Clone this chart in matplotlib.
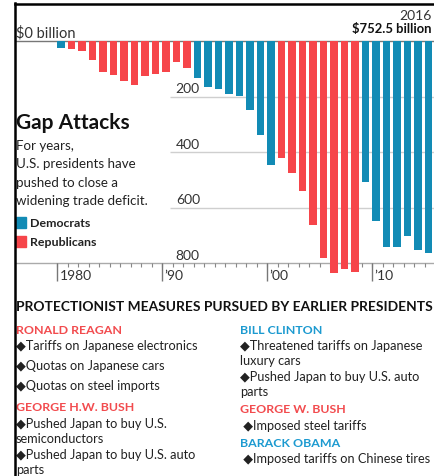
import matplotlib
matplotlib.use('Agg')
import matplotlib.pyplot as plt
from matplotlib.lines import Line2D

# --- Data: U.S. goods trade deficit, $ billions ---
years = list(range(1980, 2017))
deficit = [25.5, 28.0, 36.5, 67.1, 112.5, 122.2, 145.1, 159.6, 127.0, 117.7,
           111.0, 76.9, 96.9, 132.5, 165.8, 174.2, 191.0, 198.4, 248.2, 337.1,
           446.8, 422.4, 475.2, 541.6, 664.8, 782.8, 837.3, 821.2, 832.5, 509.7,
           648.7, 740.6, 741.5, 702.2, 751.5, 762.6, 752.5]
party = ['D'] + ['R'] * 12 + ['D'] * 8 + ['R'] * 8 + ['D'] * 8
grid_vals = [200, 400, 600]
decade_ticks = [1980, 1990, 2000, 2010]
decade_labels = ['1980', '\u201990', '\u201900', '\u201910']

left_items = [('RONALD REAGAN', 'R', 331),
              ('\u25c6Tariffs on Japanese electronics', None, 346),
              ('\u25c6Quotas on Japanese cars', None, 366),
              ('\u25c6Quotas on steel imports', None, 386),
              ('GEORGE H.W. BUSH', 'R', 408),
              ('\u25c6Pushed Japan to buy U.S.', None, 424),
              ('semiconductors', None, 439),
              ('\u25c6Pushed Japan to buy U.S. auto', None, 455),
              ('parts', None, 470)]
right_items = [('BILL CLINTON', 'D', 331),
               ('\u25c6Threatened tariffs on Japanese', None, 346),
               ('luxury cars', None, 361),
               ('\u25c6Pushed Japan to buy U.S. auto', None, 377),
               ('parts', None, 392),
               ('GEORGE W. BUSH', 'R', 410),
               (' \u25c6Imposed steel tariffs', None, 426),
               ('BARACK OBAMA', 'D', 444),
               (' \u25c6Imposed tariffs on Chinese tires', None, 459)]

# --- Style ---
C_DEM = '#128bb5'
C_REP = '#f6454a'
C_DEM_TXT = '#1c9ad0'
C_REP_TXT = '#f24b4e'
TXT = '#222222'
plt.rcParams['font.family'] = ['Lato', 'DejaVu Sans']

W, H = 434, 477
fig = plt.figure(figsize=(W / 100, H / 100), dpi=100)
fig.patch.set_facecolor('white')

# --- Chart axes (pixel box 15..434 x 5..290) ---
X0, X1, Y0, Y1 = 15, 434, 5, 290
ax = fig.add_axes([X0 / W, 1 - Y1 / H, (X1 - X0) / W, (Y1 - Y0) / H])
PX_YR = 10.5
PX_BN = 0.2775
ax.set_xlim(1980 - (57 - X0) / PX_YR, 1980 + (X1 - 57) / PX_YR)
ax.set_ylim((Y1 - 42) / PX_BN, -(42 - Y0) / PX_BN)
ax.axis('off')

colors = [C_DEM if p == 'D' else C_REP for p in party]
ax.bar(years, deficit, width=0.72, align='edge', color=colors, zorder=3)

xg = 1980 + (170 - 57) / PX_YR
for g in grid_vals + [800]:
    if g != 800:
        ax.hlines(g, xg, 2020, color='#cfcfcf', lw=1.0, zorder=1)
    ax.text(xg + 0.55, g - 8, str(g), fontsize=10, color='#333', va='bottom', ha='left', zorder=2)
ax.axhline(0, color='#777777', lw=1.0, zorder=2)
ax.axhline(800, color='#aaaaaa', lw=1.0, zorder=2)
ax.text(1976.1, -6, '$0 billion', fontsize=10.5, color='#333', va='bottom', ha='left')

# year ticks
ax.vlines(years, 800, 800 + 3.5 / PX_BN, color='#888', lw=0.8, zorder=2)
ax.vlines(decade_ticks, 800, 800 + 18 / PX_BN, color='#777', lw=1.0, zorder=2)
for t, lab in zip(decade_ticks, decade_labels):
    ax.text(t + 0.25, 800 + 12 / PX_BN, lab, fontsize=10, color='#333', va='center', ha='left')

# --- Overlay axes for text in pixel coordinates ---
tx = fig.add_axes([0, 0, 1, 1], facecolor='none')
tx.set_xlim(0, W)
tx.set_ylim(H, 0)
tx.axis('off')

tx.text(16, 123, 'Gap Attacks', fontsize=15, fontweight='bold', color='#111', va='center', ha='left')
for i, line in enumerate(['For years,', 'U.S. presidents have', 'pushed to close a',
                          'widening trade deficit.']):
    tx.text(16, 146 + i * 18.3, line, fontsize=9.6, color=TXT, va='center', ha='left')
tx.add_patch(plt.Rectangle((16, 218), 10, 11, color=C_DEM))
tx.text(30, 224, 'Democrats', fontsize=8.9, fontweight='bold', color=TXT, va='center')
tx.add_patch(plt.Rectangle((16, 237), 10, 11, color=C_REP))
tx.text(30, 243, 'Republicans', fontsize=8.9, fontweight='bold', color=TXT, va='center')

# 2016 callout, kept inside the right edge
tx.text(432, 16, '2016', fontsize=10, color='#333', va='center', ha='right')
tx.text(432, 29, '$752.5 billion', fontsize=9.4, fontweight='bold', color='#111', va='center', ha='right')

tx.text(16, 307, 'PROTECTIONIST MEASURES PURSUED BY EARLIER PRESIDENTS', fontsize=9.9,
        fontweight='bold', color='#111', va='center', ha='left')

def draw_items(items, x):
    for txt, p, y in items:
        if p is None:
            tx.text(x, y, txt, fontsize=9.2, color=TXT, va='center', ha='left')
        else:
            c = C_DEM_TXT if p == 'D' else C_REP_TXT
            tx.text(x, y, txt, fontsize=8.9, fontweight='bold', color=c, va='center', ha='left')

draw_items(left_items, 16)
draw_items(right_items, 240)

# --- Frame lines from the scanned page ---
fig.add_artist(Line2D([15 / W, 15 / W], [0, 1 - 4 / H], color='black', lw=1.8))
fig.add_artist(Line2D([15 / W, 1], [1 - 5 / H, 1 - 5 / H], color='black', lw=1.8))

fig.savefig('out.png', dpi=100, facecolor='white')
plt.close(fig)
